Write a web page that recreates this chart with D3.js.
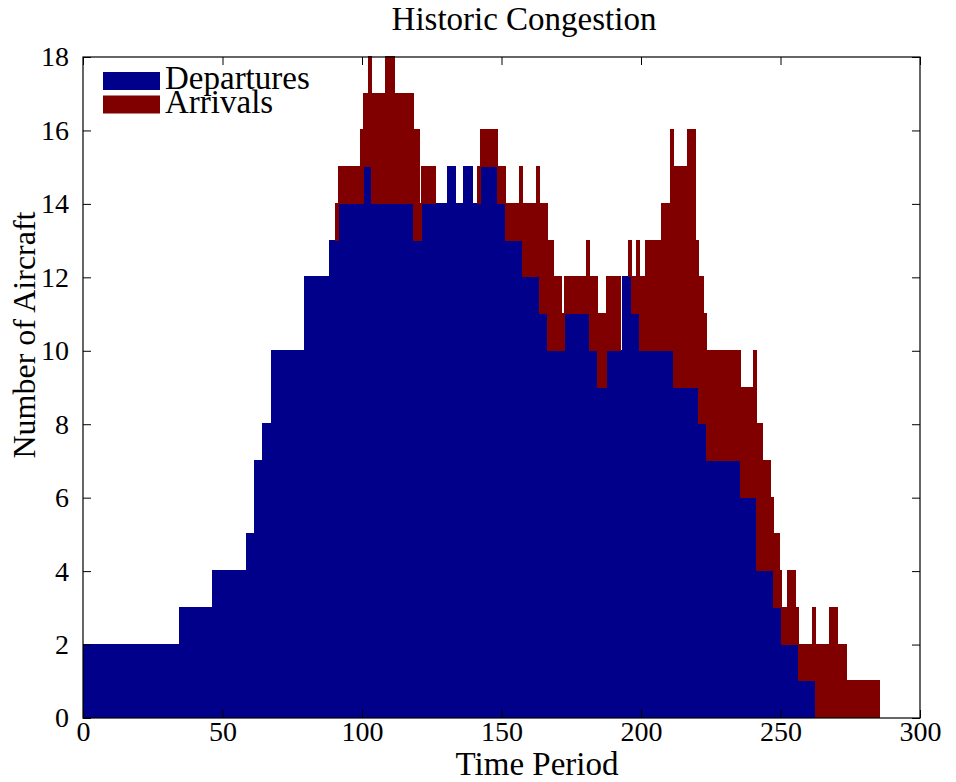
<!DOCTYPE html>
<html>
<head>
<meta charset="utf-8">
<script src="https://cdn.jsdelivr.net/npm/d3@7/dist/d3.min.js"></script>
<style>
  body { margin: 0; background: #fff; }
  text { font-family: "Liberation Serif", "DejaVu Serif", serif; fill: #000; }
</style>
</head>
<body>
<svg width="956" height="782"></svg>
<script>
// number of aircraft per time period (index = period 0..300)
var departures = [
  2,2,2,2,2,2,2,2,2,2,   2,2,2,2,2,2,2,2,2,2,
  2,2,2,2,2,2,2,2,2,2,   2,2,2,2,2,3,3,3,3,3,
  3,3,3,3,3,3,3,4,4,4,   4,4,4,4,4,4,4,4,4,5,
  5,5,7,7,7,8,8,8,10,10, 10,10,10,10,10,10,10,10,10,10,
  12,12,12,12,12,12,12,12,12,13, 13,13,14,14,14,14,14,14,14,14,
  14,15,15,15,14,14,14,14,14,14, 14,14,14,14,14,14,14,14,14,13,
  13,13,14,14,14,14,14,14,14,14, 14,15,15,15,14,14,14,15,15,15,
  14,14,14,15,15,15,15,15,15,14, 14,14,13,13,13,13,13,13,12,12,
  12,12,12,12,11,11,11,10,10,10, 10,10,10,11,11,11,11,11,11,11,
  11,11,10,10,10,9,9,9,10,10,    10,10,10,10,12,12,12,11,11,11,
  10,10,10,10,10,10,10,10,10,10, 10,10,9,9,9,9,9,9,9,9,
  9,8,8,8,7,7,7,7,7,7,           7,7,7,7,7,7,6,6,6,6,
  6,6,4,4,4,4,4,4,3,3,           3,2,2,2,2,2,2,1,1,1,
  1,1,1,0,0,0,0,0,0,0,           0,0,0,0,0,0,0,0,0,0,
  0,0,0,0,0,0,0,0,0,0,           0,0,0,0,0,0,0,0,0,0,
  0
];
var arrivals = [
  0,0,0,0,0,0,0,0,0,0,   0,0,0,0,0,0,0,0,0,0,
  0,0,0,0,0,0,0,0,0,0,   0,0,0,0,0,0,0,0,0,0,
  0,0,0,0,0,0,0,0,0,0,   0,0,0,0,0,0,0,0,0,0,
  0,0,0,0,0,0,0,0,0,0,   0,0,0,0,0,0,0,0,0,0,
  0,0,0,0,0,0,0,0,0,0,   0,1,1,1,1,1,1,1,1,1,
  2,2,2,3,3,3,3,3,3,4,   4,4,3,3,3,3,3,3,3,3,
  3,1,1,1,1,1,1,0,0,0,   0,0,0,0,0,0,0,0,0,0,
  0,0,1,1,1,1,1,1,1,1,   1,1,1,1,1,1,1,2,2,2,
  2,2,2,3,3,3,3,3,3,2,   2,2,1,1,1,1,1,1,1,1,
  1,2,2,2,2,2,2,2,2,2,   2,2,2,0,0,0,1,1,1,2,
  2,2,3,3,3,3,3,3,4,4,   4,6,6,6,6,6,6,7,7,7,
  4,4,4,3,3,3,3,3,3,3,   3,3,3,3,3,3,3,3,3,3,
  3,4,4,4,3,3,3,2,2,2,   1,1,1,2,2,2,1,1,1,1,
  1,1,2,2,2,2,2,2,3,3,   3,2,2,2,1,1,1,1,1,1,
  1,1,1,1,1,1,0,0,0,0,   0,0,0,0,0,0,0,0,0,0,
  0
];
var periods = d3.range(departures.length);
var seriesNames = ["Departures", "Arrivals"];
var xTicks = [0, 50, 100, 150, 200, 250, 300];
var yTicks = [0, 2, 4, 6, 8, 10, 12, 14, 16, 18];

var colors = {Departures: "#00008b", Arrivals: "#800000"};

var margin = {top: 57, right: 36, bottom: 64, left: 83},
    width = 956 - margin.left - margin.right,
    height = 782 - margin.top - margin.bottom;

var svg = d3.select("svg");

var g = svg.append("g")
    .attr("transform", "translate(" + margin.left + "," + margin.top + ")");

var x = d3.scaleLinear().domain([0, 300]).range([0, width]);
var y = d3.scaleLinear().domain([0, 18]).range([height, 0]);

var rows = periods.map(function(p, i) {
  return {period: p, Departures: departures[i], Arrivals: arrivals[i]};
});
var stacked = d3.stack().keys(seriesNames)(rows);

svg.append("clipPath").attr("id", "plotclip")
  .append("rect").attr("y", -1).attr("width", width).attr("height", height + 1);

var bw = x(1) - x(0);

g.append("g").attr("clip-path", "url(#plotclip)")
  .selectAll(".layer")
  .data(stacked)
  .enter().append("g")
    .attr("fill", function(d) { return colors[d.key]; })
    .attr("stroke", function(d) { return colors[d.key]; })
    .attr("stroke-width", 1)
    .attr("shape-rendering", "crispEdges")
  .selectAll("rect")
  .data(function(d) { return d; })
  .enter().append("rect")
    .attr("x", function(d) { return x(d.data.period - 0.5); })
    .attr("width", bw)
    .attr("y", function(d) { return y(d[1]) - 0.5; })
    .attr("height", function(d) { return y(d[0]) - y(d[1]); });

// axes, classic matplotlib look: ticks inside on all four sides
var fmt = d3.format("d");
g.append("g")
    .attr("transform", "translate(0," + height + ")")
    .call(d3.axisBottom(x).tickValues(xTicks).tickSizeInner(-8).tickSizeOuter(0).tickPadding(3).tickFormat(fmt))
    .call(function(a) { a.select(".domain").remove(); });
g.append("g")
    .call(d3.axisTop(x).tickValues(xTicks).tickSizeInner(-8).tickSizeOuter(0).tickFormat(""))
    .call(function(a) { a.select(".domain").remove(); });
g.append("g")
    .call(d3.axisLeft(y).tickValues(yTicks).tickSizeInner(-8).tickSizeOuter(0).tickPadding(14).tickFormat(fmt))
    .call(function(a) { a.select(".domain").remove(); });
g.append("g")
    .attr("transform", "translate(" + width + ",0)")
    .call(d3.axisRight(y).tickValues(yTicks).tickSizeInner(-8).tickSizeOuter(0).tickFormat(""))
    .call(function(a) { a.select(".domain").remove(); });

g.selectAll(".tick line").attr("stroke", "#000").attr("stroke-width", 1);
g.selectAll(".tick text")
    .style("font-family", '"Liberation Serif", serif')
    .style("font-size", "28px");

g.append("rect")
    .attr("width", width)
    .attr("height", height)
    .attr("fill", "none")
    .attr("stroke", "#000")
    .attr("stroke-width", 1.2);

// title and axis labels
svg.append("text")
    .attr("x", 524).attr("y", 30)
    .attr("text-anchor", "middle")
    .style("font-size", "33px")
    .text("Historic Congestion");

svg.append("text")
    .attr("x", 537).attr("y", 775)
    .attr("text-anchor", "middle")
    .style("font-size", "33px")
    .text("Time Period");

svg.append("text")
    .attr("transform", "translate(35,335) rotate(-90)")
    .attr("text-anchor", "middle")
    .style("font-size", "32px")
    .text("Number of Aircraft");

// legend
var legend = g.selectAll(".legend")
  .data(seriesNames)
  .enter().append("g")
    .attr("transform", function(d, i) { return "translate(20," + (15 + i * 23.5) + ")"; });

legend.append("rect")
    .attr("width", 57)
    .attr("height", 18)
    .attr("fill", function(d) { return colors[d]; });

legend.append("text")
    .attr("x", 62)
    .attr("y", 17)
    .style("font-size", "33px")
    .text(function(d) { return d; });
</script>
</body>
</html>
